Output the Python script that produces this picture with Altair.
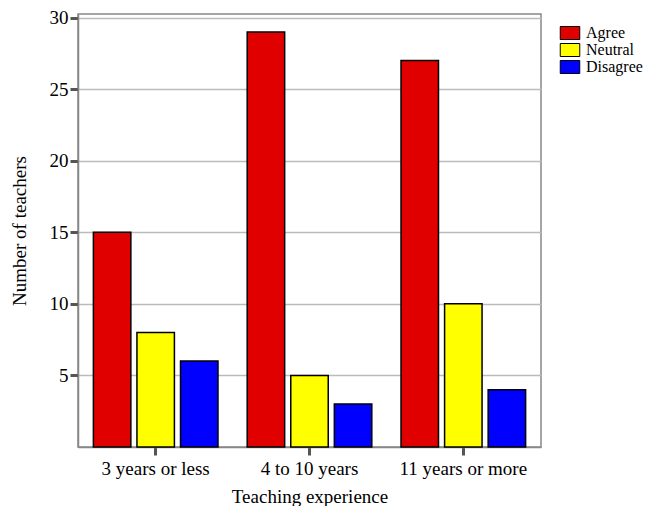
import altair as alt
import pandas as pd

experience = ["3 years or less", "4 to 10 years", "11 years or more"]
responses = ["Agree", "Neutral", "Disagree"]
agree = [15, 29, 27]
neutral = [8, 5, 10]
disagree = [6, 3, 4]
colors = ["#e00000", "#ffff00", "#0000ff"]
y_ticks = [5, 10, 15, 20, 25, 30]

rows = []
for i, e in enumerate(experience):
    for r, vals in zip(responses, [agree, neutral, disagree]):
        rows.append({"experience": e, "response": r, "count": vals[i]})
df = pd.DataFrame(rows)

FONT = "Liberation Serif"
FS = 19

chart = alt.Chart(df).mark_bar(stroke="black", strokeWidth=1.5).encode(
    x=alt.X("experience:N", sort=experience, title="Teaching experience",
            scale=alt.Scale(paddingInner=0.19, paddingOuter=0.1),
            axis=alt.Axis(labelAngle=0, labelFont=FONT, labelFontSize=FS, labelColor="black",
                          titleFont=FONT, titleFontSize=FS, titleFontWeight="normal", titleColor="black",
                          tickColor="#555555", tickWidth=3, tickSize=8, domainColor="#888888",
                          domainWidth=1.5, labelPadding=4, titlePadding=9, grid=False)),
    xOffset=alt.XOffset("response:N", sort=responses,
                        scale=alt.Scale(paddingInner=0.14, paddingOuter=0)),
    y=alt.Y("count:Q", title="Number of teachers",
            scale=alt.Scale(domain=[0, 30.25], nice=False, zero=True),
            axis=alt.Axis(values=y_ticks, labelFont=FONT, labelFontSize=FS, labelColor="black",
                          titleFont=FONT, titleFontSize=FS, titleFontWeight="normal", titleColor="black",
                          tickColor="#555555", tickWidth=3, tickSize=8, domainColor="#888888",
                          domainWidth=1.5, labelPadding=2, titlePadding=20,
                          grid=True, gridColor="#bbbbbb", gridWidth=1.5)),
    color=alt.Color("response:N", sort=responses,
                    scale=alt.Scale(domain=responses, range=colors),
                    legend=alt.Legend(title=None, orient="none", legendX=484, legendY=11,
                                      symbolType="M-1.5,-1H1.5V1H-1.5Z", symbolSize=169,
                                      symbolStrokeColor="black", symbolStrokeWidth=1,
                                      symbolOpacity=1,
                                      labelFont=FONT, labelFontSize=16, labelColor="black",
                                      labelOffset=8, rowPadding=-3, padding=0)),
).properties(
    width=463, height=433,
    autosize=alt.AutoSizeParams(type="none"),
    padding={"left": 70, "top": 6, "right": 105, "bottom": 59},
).configure_view(stroke="#888888", strokeWidth=1.5)

chart.save("out.html", embed_options={"renderer": "svg", "actions": False})
